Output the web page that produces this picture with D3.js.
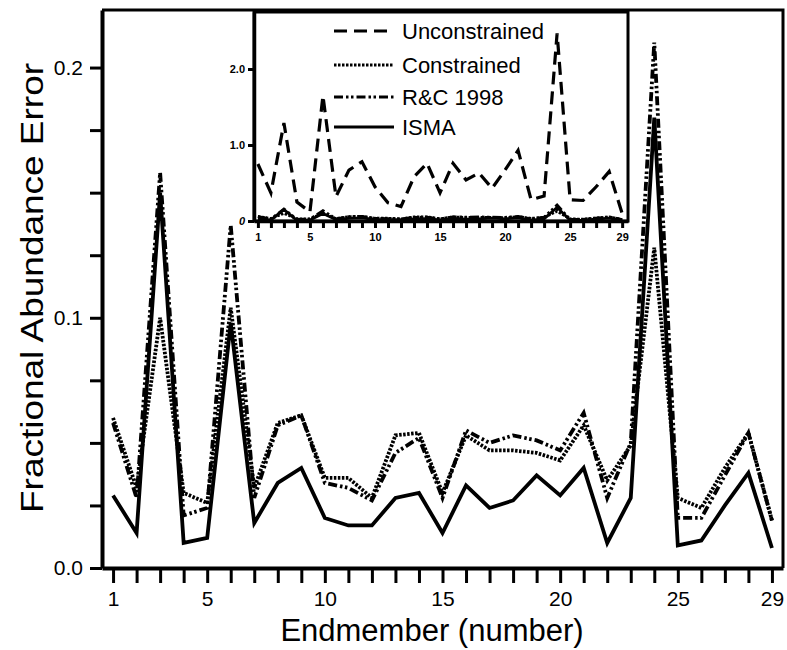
<!DOCTYPE html>
<meta charset="utf-8">
<script src="https://d3js.org/d3.v7.min.js"></script>
<body style="margin:0;background:#fff">
<svg id="chart" width="787" height="650"></svg>
<script>

// endmember numbers and the four error series
var endmembers = d3.range(1, 30);
var unconstrained = [0.75, 0.37, 1.29, 0.25, 0.12, 1.65, 0.32, 0.67, 0.78, 0.45, 0.24, 0.19, 0.58, 0.76, 0.37,
                     0.76, 0.54, 0.63, 0.43, 0.67, 0.93, 0.28, 0.33, 2.47, 0.28, 0.27, 0.45, 0.65, 0.10];
var constrained   = [0.060, 0.032, 0.100, 0.030, 0.026, 0.104, 0.032, 0.058, 0.061, 0.036, 0.036, 0.028, 0.053, 0.054, 0.030,
                     0.053, 0.047, 0.047, 0.046, 0.043, 0.057, 0.035, 0.049, 0.128, 0.028, 0.024, 0.040, 0.054, 0.019];
var rc1998        = [0.058, 0.028, 0.158, 0.021, 0.024, 0.137, 0.028, 0.057, 0.061, 0.034, 0.032, 0.027, 0.046, 0.052, 0.028,
                     0.055, 0.050, 0.053, 0.051, 0.047, 0.062, 0.028, 0.050, 0.210, 0.020, 0.020, 0.037, 0.054, 0.019];
var isma          = [0.029, 0.014, 0.150, 0.010, 0.012, 0.098, 0.018, 0.034, 0.040, 0.020, 0.017, 0.017, 0.028, 0.030, 0.014,
                     0.033, 0.024, 0.027, 0.037, 0.029, 0.040, 0.010, 0.028, 0.180, 0.009, 0.011, 0.025, 0.038, 0.008];

var xTickLabels = [1, 5, 10, 15, 20, 25, 29];
var yTickLabels = [0, 0.1, 0.2];
var insetYTicks = [0, 1, 2];

var seriesNames = ["Unconstrained", "Constrained", "R&C 1998", "ISMA"];
var dashes = {"Unconstrained": "13,7", "Constrained": "2.5,1.5", "R&C 1998": "9,3,2.5,2.5,2.5,3", "ISMA": null};

var svg = d3.select("#chart");
var font = "'Liberation Sans', Arial, sans-serif";

// ---- main plot
var x = d3.scaleLinear().domain([0.53, 29.47]).range([102, 783]);
var y = d3.scaleLinear().domain([0, 0.223]).range([568, 10]);

function series(vals) {
  return endmembers.map(function(e, i) { return [e, vals[i]]; });
}

var line = d3.line().x(function(d) { return x(d[0]); }).y(function(d) { return y(d[1]); });

var mainSeries = [["Constrained", constrained], ["R&C 1998", rc1998], ["ISMA", isma]];
svg.append("g").selectAll("path")
  .data(mainSeries)
  .enter().append("path")
    .attr("d", function(d) { return line(series(d[1])); })
    .attr("fill", "none")
    .attr("stroke", "#000")
    .attr("stroke-width", 3.8)
    .attr("stroke-dasharray", function(d) { return dashes[d[0]]; });

// frame
svg.append("path")
  .attr("d", "M102,10H783V568")
  .attr("fill", "none").attr("stroke", "#000").attr("stroke-width", 3);

var yAxis = svg.append("g")
  .attr("transform", "translate(102,0)")
  .call(d3.axisLeft(y)
    .tickValues(d3.range(0, 9).map(function(i) { return i * 0.025; }))
    .tickSize(12).tickPadding(7).tickSizeOuter(0)
    .tickFormat(function(d) {
      return yTickLabels.some(function(v) { return Math.abs(v - d) < 1e-9; }) ? d3.format(".1f")(d) : "";
    }));

var xAxis = svg.append("g")
  .attr("transform", "translate(0,568)")
  .call(d3.axisBottom(x)
    .tickValues(endmembers)
    .tickSize(15).tickPadding(8).tickSizeOuter(0)
    .tickFormat(function(d) { return xTickLabels.indexOf(d) >= 0 ? d : ""; }));

[yAxis, xAxis].forEach(function(g) {
  g.select(".domain").attr("stroke-width", 4);
  g.selectAll(".tick line").attr("stroke-width", 3);
  g.selectAll("text").attr("font-family", font).attr("font-size", 21).attr("fill", "#000");
});

svg.append("text")
  .attr("x", 432).attr("y", 641)
  .attr("text-anchor", "middle")
  .attr("font-family", font).attr("font-size", 31)
  .text("Endmember (number)");

svg.append("text")
  .attr("transform", "translate(43,288) rotate(-90)")
  .attr("text-anchor", "middle")
  .attr("font-family", font).attr("font-size", 31)
  .attr("textLength", 450).attr("lengthAdjust", "spacingAndGlyphs")
  .text("Fractional Abundance Error");

// ---- inset
var xi = d3.scaleLinear().domain([0.7, 29.45]).range([254, 628]);
var yi = d3.scaleLinear().domain([0, 2.75]).range([221, 12]);
var lineI = d3.line().x(function(d) { return xi(d[0]); }).y(function(d) { return yi(d[1]); });

var inset = svg.append("g");
inset.append("rect")
  .attr("x", 254).attr("y", 12).attr("width", 374).attr("height", 209)
  .attr("fill", "#fff").attr("stroke", "#000").attr("stroke-width", 3);

var insetSeries = [["Unconstrained", unconstrained], ["Constrained", constrained], ["R&C 1998", rc1998], ["ISMA", isma]];
inset.append("g").selectAll("path")
  .data(insetSeries)
  .enter().append("path")
    .attr("d", function(d) { return lineI(series(d[1])); })
    .attr("fill", "none")
    .attr("stroke", "#000")
    .attr("stroke-width", function(d) { return d[0] == "Unconstrained" ? 3.2 : 2.8; })
    .attr("stroke-dasharray", function(d) { return dashes[d[0]]; });

var yiAxis = inset.append("g")
  .attr("transform", "translate(254,0)")
  .call(d3.axisLeft(yi).tickValues(insetYTicks).tickSize(6).tickPadding(3).tickSizeOuter(0)
    .tickFormat(function(d) { return d == 0 ? "0" : d3.format(".1f")(d); }));
var xiAxis = inset.append("g")
  .attr("transform", "translate(0,221)")
  .call(d3.axisBottom(xi).tickValues(endmembers).tickSize(7).tickPadding(5).tickSizeOuter(0)
    .tickFormat(function(d) { return xTickLabels.indexOf(d) >= 0 ? d : ""; }));

[yiAxis, xiAxis].forEach(function(g) {
  g.select(".domain").attr("stroke-width", 3.5);
  g.selectAll(".tick line").attr("stroke-width", 3);
  g.selectAll("text").attr("font-family", font).attr("font-size", 11)
    .attr("font-weight", "bold").attr("fill", "#000");
});
yiAxis.selectAll("text").filter(function(d) { return d == 0; }).attr("font-style", "italic");

// legend
var legend = inset.append("g").selectAll("g")
  .data(seriesNames)
  .enter().append("g")
    .attr("transform", function(d, i) { return "translate(0," + [31, 65, 97, 127][i] + ")"; });
legend.append("line")
  .attr("x1", 334).attr("x2", 394)
  .attr("stroke", "#000").attr("stroke-width", 3)
  .attr("stroke-dasharray", function(d) { return dashes[d]; });
legend.append("text")
  .attr("x", 402).attr("dy", "0.35em")
  .attr("font-family", font).attr("font-size", 22)
  .text(function(d) { return d; });

</script>
</body>
